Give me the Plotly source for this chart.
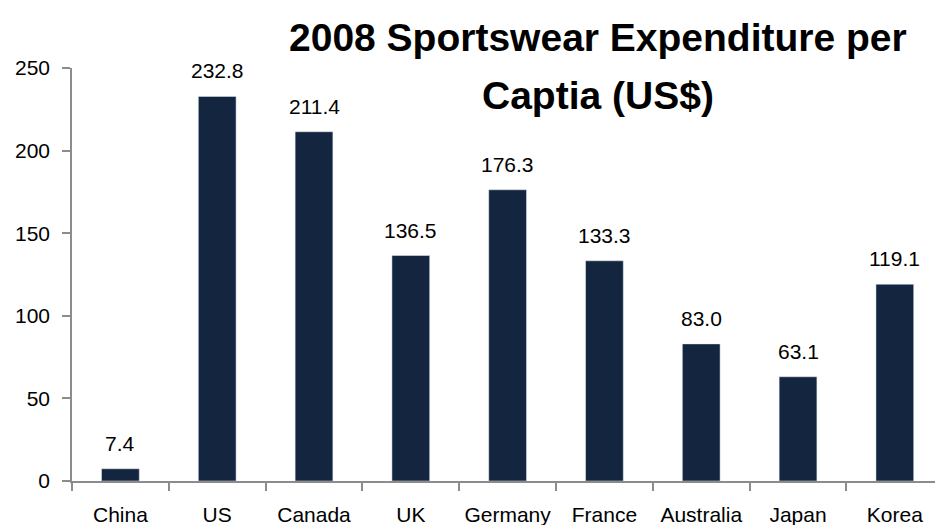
import plotly.graph_objects as go

countries = ["China", "US", "Canada", "UK", "Germany", "France", "Australia", "Japan", "Korea"]
values = [7.4, 232.8, 211.4, 136.5, 176.3, 133.3, 83.0, 63.1, 119.1]
y_ticks = [0, 50, 100, 150, 200, 250]
title_lines = ["2008 Sportswear Expenditure per", "Captia (US$)"]

FONT = "Liberation Sans Narrow, Arial Narrow, Liberation Sans, Arial, sans-serif"
BAR = "#14263F"
AXIS = "#8C8C8C"

fig = go.Figure()
fig.add_trace(go.Bar(x=list(range(len(countries))), y=values, marker_color=BAR,
                     width=0.39, hoverinfo="skip"))

for i, v in enumerate(values):
    fig.add_annotation(x=i, y=v, text=f"{v:.1f}", showarrow=False, yanchor="bottom",
                       yshift=12, font=dict(family=FONT, size=21, color="#000000"))

# two-line bold title
for line, ypx in zip(title_lines, [38, 95]):
    fig.add_annotation(xref="paper", yref="paper", x=(598 - 72) / 863, y=(481 - ypx) / 413,
                       xanchor="center", yanchor="middle", showarrow=False,
                       text=f"<b>{line}</b>",
                       font=dict(family=FONT, size=39, color="#000000"))

fig.update_layout(
    width=935, height=525,
    margin=dict(l=72, r=0, t=68, b=44),
    paper_bgcolor="white", plot_bgcolor="white",
    showlegend=False,
)
fig.update_xaxes(
    range=[-0.5, 8.415], tickmode="array", tickvals=list(range(len(countries))),
    ticktext=countries, showgrid=False, showline=True, linecolor=AXIS, linewidth=1.5,
    ticks="", ticklabelstandoff=14,
    tickfont=dict(family=FONT, size=21, color="#000000"), fixedrange=True,
)
# boundary tick marks between categories
fig.update_xaxes(minor=dict(tickmode="array", tickvals=[i - 0.5 for i in range(len(countries))],
                            ticks="outside", ticklen=8, tickcolor=AXIS, tickwidth=1.5, showgrid=False))
fig.update_yaxes(
    range=[0, 250], tickmode="array", tickvals=y_ticks, showgrid=False, zeroline=False,
    showline=True, linecolor=AXIS, linewidth=1.5, ticks="outside", ticklen=8,
    tickcolor=AXIS, tickwidth=1.5, ticklabelstandoff=8,
    tickfont=dict(family=FONT, size=21, color="#000000"),
)

fig.write_html("out.html")
